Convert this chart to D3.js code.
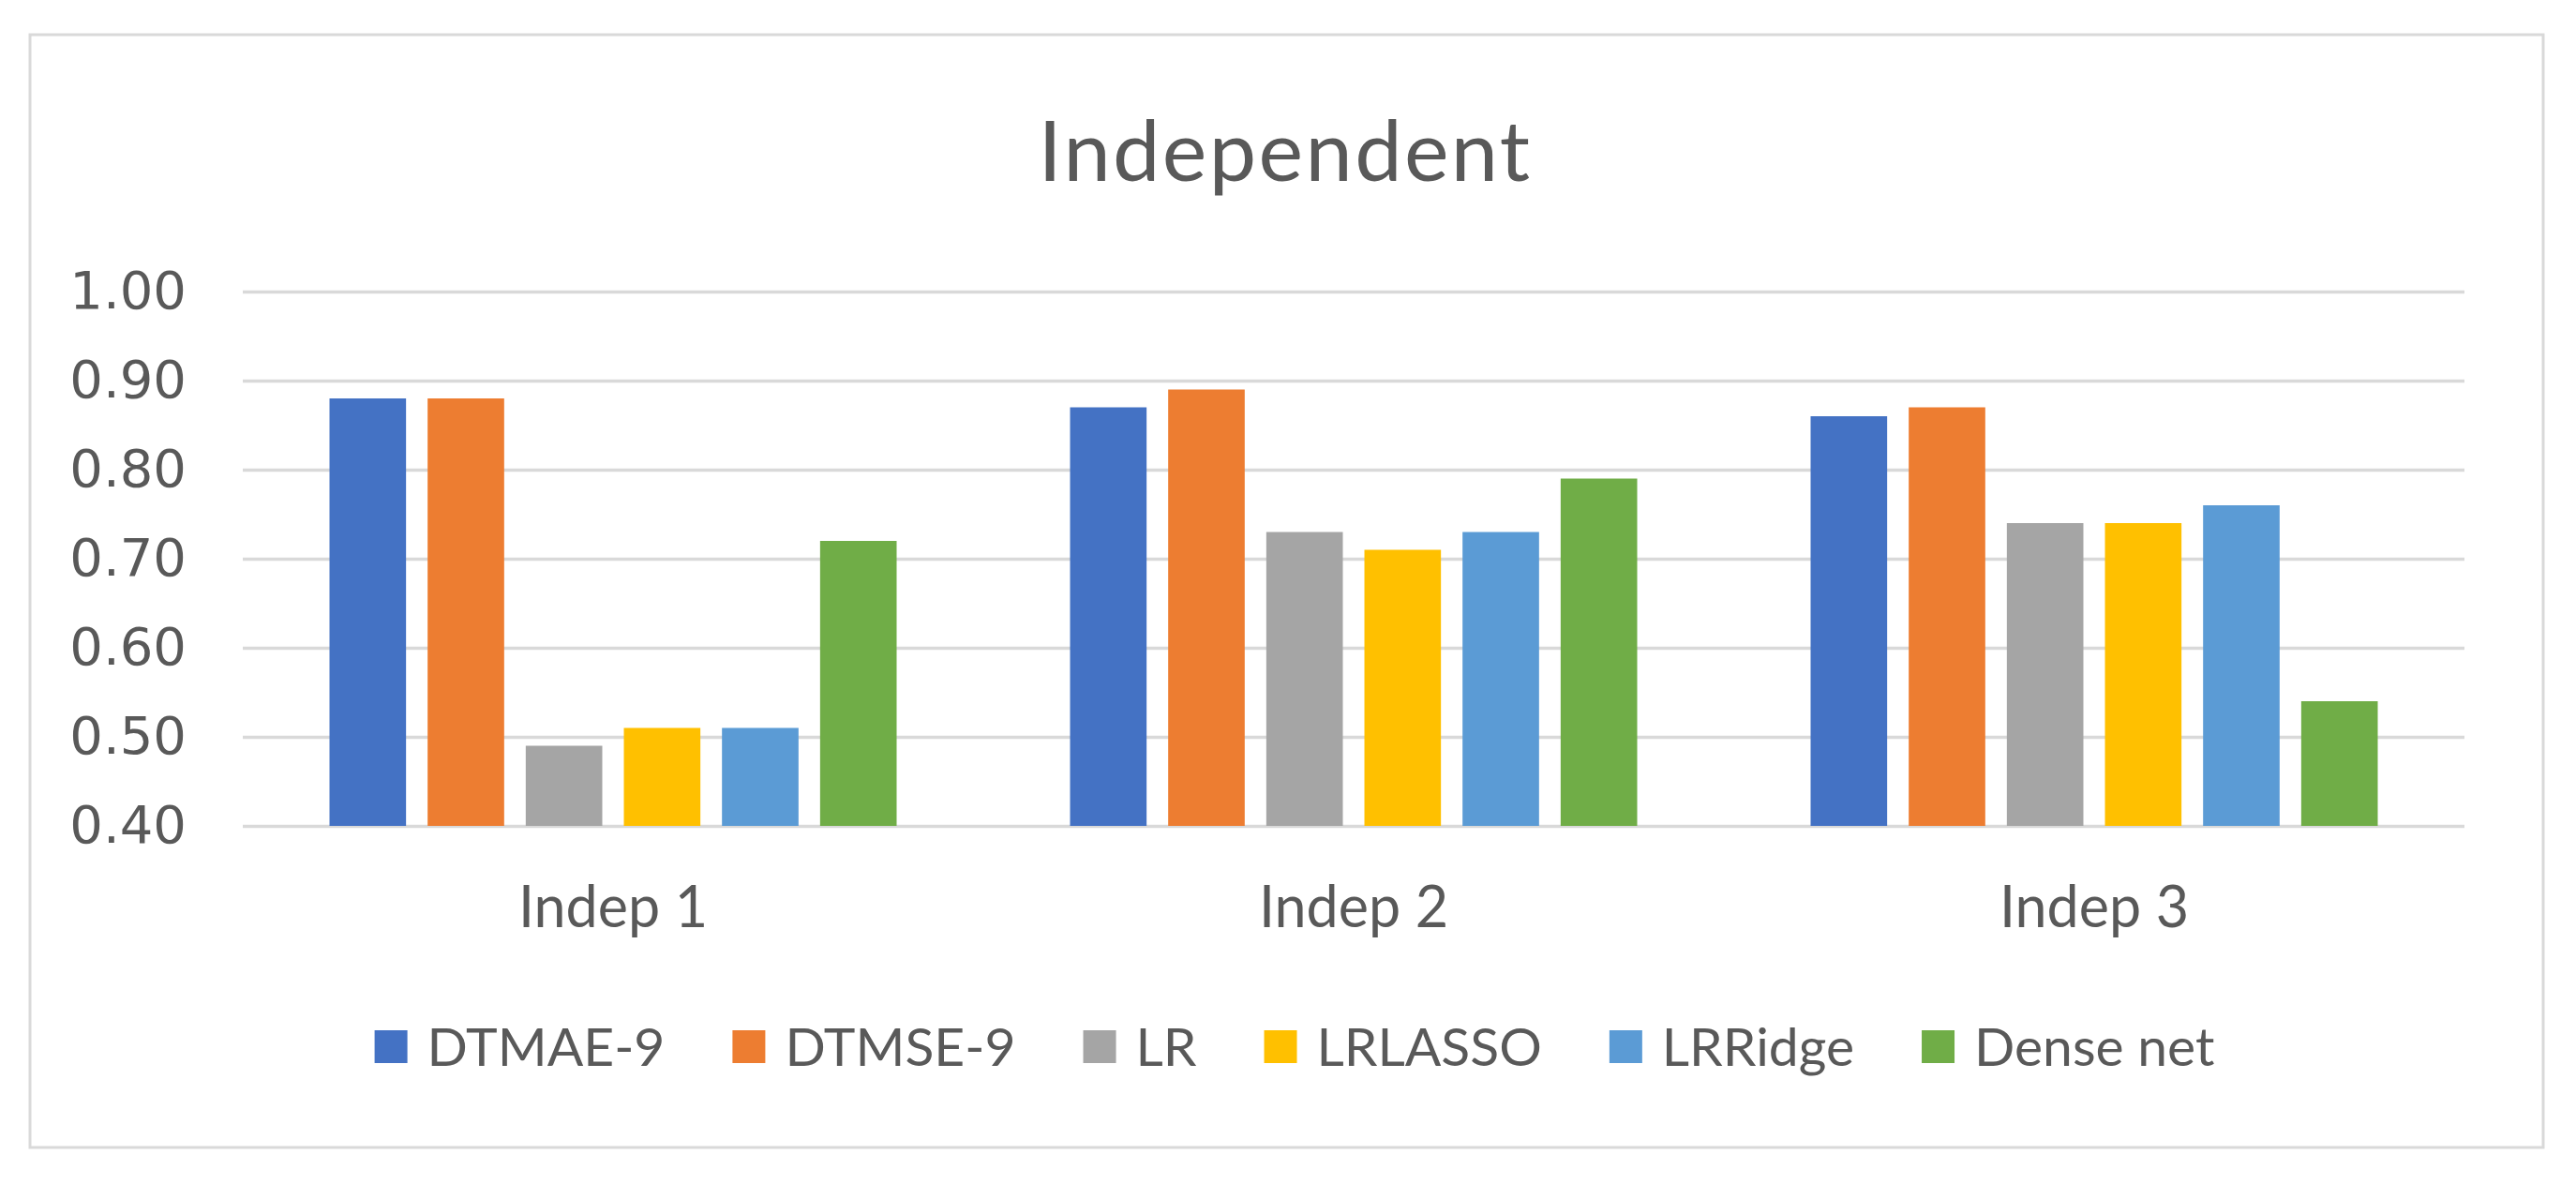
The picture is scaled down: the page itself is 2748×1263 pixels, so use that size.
<!DOCTYPE html>
<html>
<head>
<meta charset="utf-8">
<script src="https://cdn.jsdelivr.net/npm/d3@7"></script>
<style>
  html, body { margin: 0; padding: 0; background: #ffffff; }
  svg { display: block; }
</style>
</head>
<body>
<svg id="chart" width="2748" height="1263"></svg>
<script>
const categories = ["Indep 1", "Indep 2", "Indep 3"];
const seriesNames = ["DTMAE-9", "DTMSE-9", "LR", "LRLASSO", "LRRidge", "Dense net"];
const seriesColors = ["#4472C4", "#ED7D31", "#A5A5A5", "#FFC000", "#5B9BD5", "#70AD47"];
const dtmae9   = [0.88, 0.87, 0.86];
const dtmse9   = [0.88, 0.89, 0.87];
const lr       = [0.49, 0.73, 0.74];
const lrlasso  = [0.51, 0.71, 0.74];
const lrridge  = [0.51, 0.73, 0.76];
const densenet = [0.72, 0.79, 0.54];
const yTicks = [0.40, 0.50, 0.60, 0.70, 0.80, 0.90, 1.00];
const titleText = "Independent";

const seriesValues = [dtmae9, dtmse9, lr, lrlasso, lrridge, densenet];

const W = 2748, H = 1263;
const svg = d3.select("#chart");
const textColor = "#595959";
const gridColor = "#D9D9D9";

// outer border
svg.append("rect")
  .attr("x", 32).attr("y", 37).attr("width", 2681).attr("height", 1187)
  .attr("fill", "#ffffff").attr("stroke", gridColor).attr("stroke-width", 3);

// title
svg.append("text")
  .attr("x", 1371).attr("y", 193)
  .attr("text-anchor", "middle")
  .attr("font-family", "Lato, 'Open Sans', sans-serif")
  .attr("font-size", 90)
  .attr("letter-spacing", 2.4)
  .attr("fill", textColor)
  .text(titleText);

const plot = { left: 259, right: 2629, top: 311, bottom: 881 };

const y = d3.scaleLinear().domain([0.40, 1.00]).range([plot.bottom, plot.top]);
const x0 = d3.scaleBand().domain(categories).range([plot.left, plot.right]).padding(0);
const groupPad = 92.5;
const x1 = d3.scaleBand().domain(seriesNames)
  .range([groupPad, x0.bandwidth() - groupPad])
  .paddingInner(0.22).paddingOuter(0);
const color = d3.scaleOrdinal().domain(seriesNames).range(seriesColors);

// gridlines via axis
const yAxis = d3.axisLeft(y).tickValues(yTicks)
  .tickSize(-(plot.right - plot.left)).tickFormat(d3.format(".2f")).tickPadding(60);
const gy = svg.append("g").attr("transform", `translate(${plot.left},0)`).call(yAxis);
gy.select(".domain").remove();
gy.selectAll(".tick line").attr("stroke", gridColor).attr("stroke-width", 3.5);
gy.selectAll(".tick text")
  .attr("font-family", "'DejaVu Sans', Verdana, sans-serif")
  .attr("font-size", 56)
  .attr("fill", textColor);

// bars
const rows = categories.map((c, i) => ({
  cat: c,
  vals: seriesNames.map((s, j) => ({ s, v: seriesValues[j][i] }))
}));
const groups = svg.append("g").selectAll("g").data(rows).join("g")
  .attr("transform", d => `translate(${x0(d.cat)},0)`);
groups.selectAll("rect").data(d => d.vals).join("rect")
  .attr("x", d => x1(d.s))
  .attr("width", x1.bandwidth())
  .attr("y", d => y(d.v))
  .attr("height", d => y(0.40) - y(d.v))
  .attr("fill", d => color(d.s));

// x axis labels
const xAxis = d3.axisBottom(x0).tickSize(0).tickPadding(0);
const gx = svg.append("g").attr("transform", `translate(0,${plot.bottom})`).call(xAxis);
gx.select(".domain").remove();
gx.selectAll(".tick text")
  .attr("y", 108).attr("dy", null)
  .attr("font-family", "Lato, 'Open Sans', sans-serif")
  .attr("font-size", 61)
  .attr("fill", textColor);

// legend
const legend = svg.append("g");
const sq = 35, gapText = 21, gapItem = 72, legendBaseline = 1137;
const items = legend.selectAll("g").data(seriesNames).join("g");
items.append("rect")
  .attr("width", sq).attr("height", sq)
  .attr("y", legendBaseline - 38)
  .attr("fill", d => color(d));
items.append("text")
  .attr("x", sq + gapText).attr("y", legendBaseline)
  .attr("font-family", "Lato, 'Open Sans', sans-serif")
  .attr("font-size", 57)
  .attr("fill", textColor)
  .text(d => d);
let widths = [];
items.each(function() {
  widths.push(sq + gapText + d3.select(this).select("text").node().getComputedTextLength());
});
const total = d3.sum(widths) + gapItem * (widths.length - 1);
let cx = 1381 - total / 2;
items.each(function(d, i) {
  d3.select(this).attr("transform", `translate(${cx},0)`);
  cx += widths[i] + gapItem;
});
</script>
</body>
</html>
